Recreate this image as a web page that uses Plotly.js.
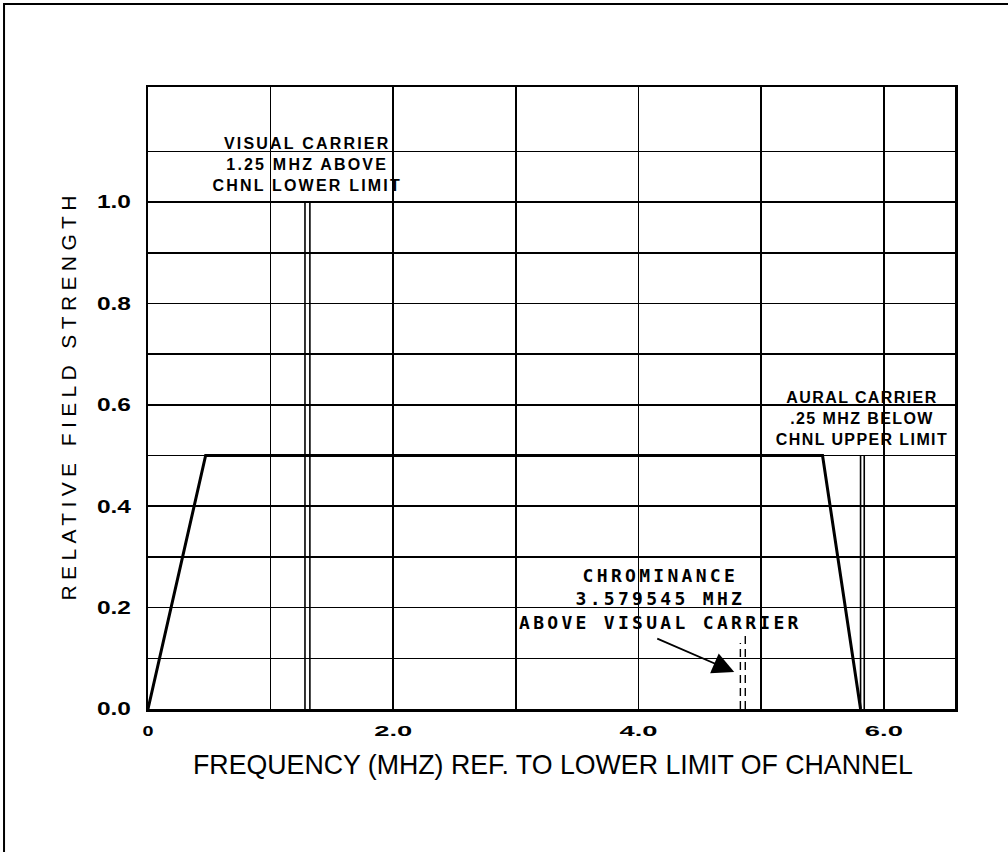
<!DOCTYPE html>
<html>
<head>
<meta charset="utf-8">
<script src="https://cdn.plot.ly/plotly-3.0.1.min.js"></script>
<style>
  html, body { margin: 0; padding: 0; background: #fff; }
  #chart { width: 1008px; height: 852px; }
</style>
</head>
<body>
<div id="chart"></div>
<script>
// ---- data ----
const passbandX = [0, 0.47, 5.50, 5.81];
const passbandY = [0, 0.5, 0.5, 0];
const visualCarrierX = [1.28, 1.32];
const visualCarrierLevel = 1.0;
const auralCarrierX = [5.81, 5.84];
const auralCarrierLevel = 0.5;
const chromaX = [4.83, 4.87];
const chromaLevel = [0.13, 0.152];
const arrowTip = [4.78, 0.073];
const arrowTail = [4.14, 0.14];
const xTickVals = [0, 1, 2, 3, 4, 5, 6];
const xTickText = ['0', '', '2.0', '', '4.0', '', '6.0'];
const yTickVals = [0, 0.1, 0.2, 0.3, 0.4, 0.5, 0.6, 0.7, 0.8, 0.9, 1.0, 1.1];
const yTickText = ['0.0', '', '0.2', '', '0.4', '', '0.6', '', '0.8', '', '1.0', ''];
const xTitle = 'FREQUENCY (MHZ) REF. TO LOWER LIMIT OF CHANNEL';
const yTitle = 'RELATIVE FIELD STRENGTH';
const visualText = 'VISUAL CARRIER<br>1.25 MHZ ABOVE<br>CHNL LOWER LIMIT';
const auralText = 'AURAL CARRIER<br>.25 MHZ BELOW<br>CHNL UPPER LIMIT';
const chromaText = 'CHROMINANCE<br>3.579545 MHZ<br>ABOVE VISUAL CARRIER';

const traces = [];
traces.push({x: passbandX, y: passbandY, mode: 'lines', line: {color: '#000', width: 3}, hoverinfo: 'skip'});
visualCarrierX.forEach(v => traces.push({x: [v, v], y: [0, visualCarrierLevel], mode: 'lines', line: {color: '#000', width: 1.6}}));
auralCarrierX.forEach(v => traces.push({x: [v, v], y: [0, auralCarrierLevel], mode: 'lines', line: {color: '#000', width: 1.6}}));
chromaX.forEach((v, i) => traces.push({x: [v, v], y: [0, chromaLevel[i]], mode: 'lines', line: {color: '#000', width: 1.4, dash: '8px,5px'}}));

const textFont = {family: 'Liberation Sans, Arial, sans-serif', size: 16, color: '#000', weight: 'bold'};

const layout = {
  width: 1008, height: 852,
  margin: {l: 148, r: 53, t: 87, b: 143},
  paper_bgcolor: '#fff', plot_bgcolor: '#fff',
  showlegend: false,
  xaxis: {
    range: [0, 6.58], tickmode: 'array', tickvals: xTickVals, ticktext: xTickText,
    showgrid: true, gridcolor: '#000', gridwidth: 1.6, zeroline: false,
    showline: true, linecolor: '#000', linewidth: 2.5, mirror: true, ticks: '',
    tickfont: {family: 'Liberation Sans, Arial, sans-serif', size: 15, color: '#000', weight: 600},
    ticklabelstandoff: 6
  },
  yaxis: {
    range: [0, 1.227], tickmode: 'array', tickvals: yTickVals, ticktext: yTickText,
    showgrid: true, gridcolor: '#000', gridwidth: 1.6, zeroline: false,
    showline: true, linecolor: '#000', linewidth: 2.5, mirror: true, ticks: '',
    tickfont: {family: 'Liberation Sans, Arial, sans-serif', size: 18, color: '#000', weight: 600},
    ticklabelstandoff: 11,
    title: {text: yTitle, standoff: 24,
      font: {family: 'Liberation Sans, Arial, sans-serif', size: 21, color: '#000'}}
  },
  annotations: [
    {x: (visualCarrierX[0] + visualCarrierX[1]) / 2, y: visualCarrierLevel, yanchor: 'bottom', yshift: 6,
     text: visualText, showarrow: false, font: textFont, align: 'center'},
    {x: (auralCarrierX[0] + auralCarrierX[1]) / 2, y: auralCarrierLevel, yanchor: 'bottom', yshift: 6,
     text: auralText, showarrow: false, font: textFont, align: 'center'},
    {x: (arrowTail[0] + chromaX[0]) / 2 - 0.31, y: chromaLevel[1], yanchor: 'bottom', yshift: -3,
     text: chromaText, showarrow: false, align: 'center',
     font: {family: 'DejaVu Sans Mono, monospace', size: 18, color: '#000', weight: 'bold'}},
    {x: arrowTip[0], y: arrowTip[1], ax: arrowTail[0], ay: arrowTail[1], axref: 'x', ayref: 'y',
     text: '', showarrow: true, arrowhead: 2, arrowsize: 2.4, arrowwidth: 1.8, arrowcolor: '#000'},
    {xref: 'paper', yref: 'paper', x: 0.502, y: 0, xanchor: 'center', yanchor: 'middle', yshift: -55,
     text: xTitle, showarrow: false,
     font: {family: 'Liberation Sans, Arial, sans-serif', size: 28, color: '#000'}}
  ],
  shapes: [
    {type: 'rect', xref: 'paper', yref: 'paper', x0: -0.1784, x1: 1.08, y0: -0.25, y1: 1.1334,
     line: {color: '#000', width: 2}, fillcolor: 'rgba(0,0,0,0)', layer: 'above'}
  ]
};

function fitText(el, len, mode) {
  el.setAttribute('textLength', len);
  el.setAttribute('lengthAdjust', mode || 'spacingAndGlyphs');
}

Plotly.newPlot('chart', traces, layout, {displayModeBar: false, staticPlot: true}).then(() => {
  document.querySelectorAll('.xtick text').forEach(t => {
    const s = t.textContent.trim();
    if (s.length === 1) fitText(t, 11); else if (s.length) fitText(t, 38);
  });
  document.querySelectorAll('.ytick text').forEach(t => {
    if (t.textContent.trim().length) fitText(t, 34);
  });
  const yt = document.querySelector('.ytitle');
  if (yt) fitText(yt, 405, 'spacing');
  const ann = document.querySelectorAll('.annotation-text');
  if (ann[0]) ann[0].style.letterSpacing = '2.2px';
  if (ann[1]) ann[1].style.letterSpacing = '1.4px';
  if (ann[2]) ann[2].style.letterSpacing = '3.3px';
  if (ann[4]) fitText(ann[4], 720);
});
</script>
</body>
</html>
